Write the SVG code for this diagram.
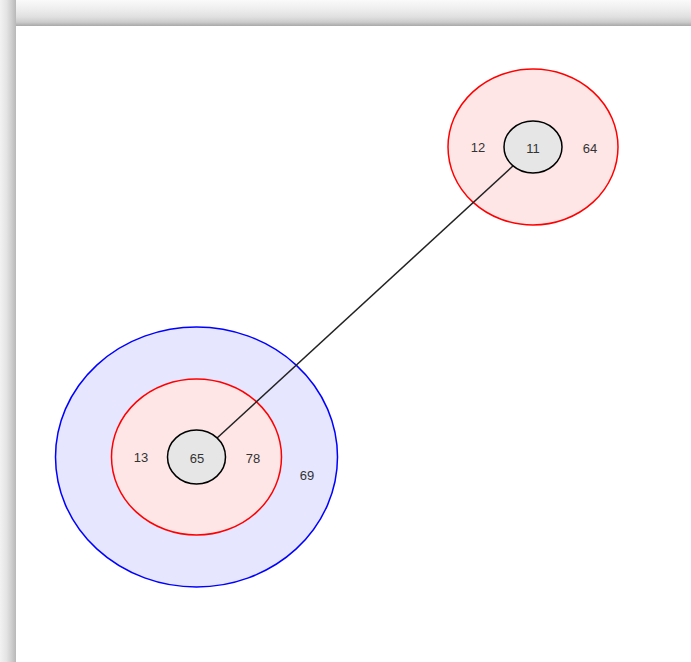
<svg xmlns="http://www.w3.org/2000/svg" width="691" height="662" viewBox="0 0 691 662">
<defs>
<linearGradient id="gTop" x1="0" y1="0" x2="0" y2="1">
<stop offset="0" stop-color="#fafafa"/>
<stop offset="0.35" stop-color="#eeeeee"/>
<stop offset="0.65" stop-color="#e0e0e0"/>
<stop offset="0.85" stop-color="#cccccc"/>
<stop offset="1" stop-color="#a8a8a8"/>
</linearGradient>
<linearGradient id="gLeft" x1="0" y1="0" x2="1" y2="0">
<stop offset="0" stop-color="#f2f2f2"/>
<stop offset="0.4" stop-color="#e4e4e4"/>
<stop offset="0.7" stop-color="#d0d0d0"/>
<stop offset="1" stop-color="#b8b8b8"/>
</linearGradient>
<style>
.lbl{font-family:"Liberation Sans",Arial,sans-serif;font-size:13px;fill:#333;text-anchor:middle;dominant-baseline:central}
.outer{fill:#e6e6ff;stroke:#0000ff;stroke-width:1.5}
.mid{fill:#ffe6e6;stroke:#ff0000;stroke-width:1.5}
.inner{fill:#e6e6e6;stroke:#000;stroke-width:1.5}
.edge{stroke:#222;stroke-width:1.5;fill:none}
</style>
</defs>
<rect x="0" y="0" width="691" height="662" fill="#ffffff"/>
<rect x="0" y="0" width="691" height="26" fill="url(#gTop)"/>
<rect x="0" y="0" width="16" height="662" fill="url(#gLeft)"/>
<rect x="16" y="26" width="675" height="636" fill="#ffffff"/>
<g id="node69">
<ellipse class="outer" cx="196.5" cy="457" rx="141" ry="130"/>
<text class="lbl" x="307" y="475">69</text>
</g>
<g id="node13">
<ellipse class="mid" cx="196.5" cy="457" rx="85" ry="78"/>
<text class="lbl" x="141" y="457">13</text>
<text class="lbl" x="253" y="458">78</text>
</g>
<g id="node12">
<ellipse class="mid" cx="533" cy="147" rx="85" ry="78"/>
<text class="lbl" x="478" y="147">12</text>
<text class="lbl" x="590" y="148">64</text>
</g>
<g id="connectors">
<line class="edge" x1="216" y1="439" x2="514" y2="165"/>
</g>
<g id="node65">
<ellipse class="inner" cx="196.5" cy="457" rx="29" ry="27"/>
<text class="lbl" x="197" y="458">65</text>
</g>
<g id="node11">
<ellipse class="inner" cx="533" cy="147" rx="29" ry="26"/>
<text class="lbl" x="533" y="148">11</text>
</g>
</svg>
